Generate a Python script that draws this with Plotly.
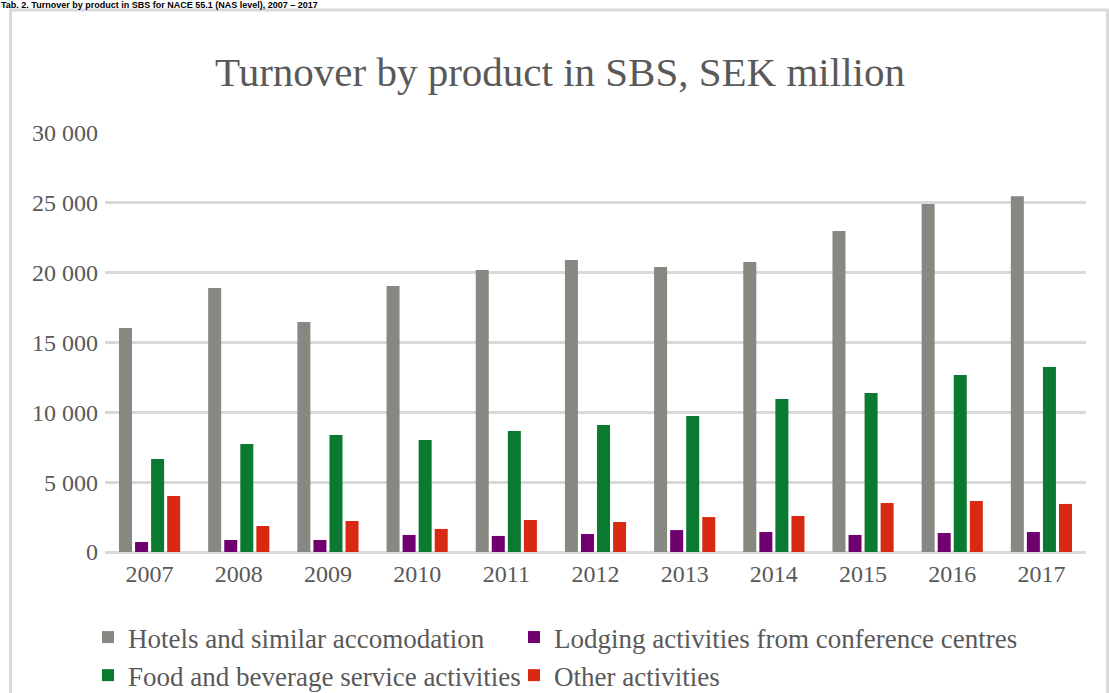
import plotly.graph_objects as go

years = ["2007", "2008", "2009", "2010", "2011", "2012", "2013", "2014", "2015", "2016", "2017"]
hotels = [16030, 18900, 16460, 19040, 20190, 20900, 20400, 20760, 22980, 24910, 25480]
lodging = [715, 860, 860, 1220, 1150, 1290, 1570, 1430, 1220, 1360, 1430]
food = [6660, 7730, 8375, 8020, 8660, 9090, 9740, 10950, 11380, 12670, 13240]
other = [4010, 1860, 2220, 1650, 2290, 2150, 2500, 2580, 3510, 3650, 3440]

series_names = ["Hotels and similar accomodation", "Lodging activities from conference centres",
                "Food and beverage service activities", "Other activities"]
series_colors = ["#888882", "#700070", "#0a7a30", "#d82a12"]
series_legend = ["legend", "legend2", "legend", "legend2"]
y_ticks = [0, 5000, 10000, 15000, 20000, 25000, 30000]

W, H = 1109, 693
L, R, T, B = 105, 23, 133, 141
PW, PH = W - L - R, H - T - B

def px(x):
    return (x - L) / PW

def py(y):
    return (H - B - y) / PH

fig = go.Figure()
for name, vals, col, lg in zip(series_names, [hotels, lodging, food, other], series_colors, series_legend):
    fig.add_trace(go.Bar(x=years, y=vals, name=name, marker_color=col, marker_line_width=0,
                         legend=lg))

font_family = "Liberation Serif, DejaVu Serif, serif"
legend_common = dict(orientation="v", xref="container", yref="container", y=1 - 613 / H,
                     yanchor="top", xanchor="left", traceorder="normal", tracegroupgap=0,
                     font=dict(size=27, color="#595959", family=font_family),
                     bgcolor="rgba(0,0,0,0)", itemclick=False, itemdoubleclick=False)
fig.update_layout(
    width=W, height=H,
    margin=dict(l=L, r=R, t=T, b=B, autoexpand=False),
    paper_bgcolor="white", plot_bgcolor="white",
    separators=". ",
    font=dict(family=font_family, color="#595959", size=24),
    title=dict(text="Turnover by product in SBS, SEK million", x=560 / W, xanchor="center",
               y=1 - 72 / H, yanchor="middle", font=dict(size=41, color="#595959", family=font_family)),
    barmode="group", bargap=0.28, bargroupgap=0.19,
    xaxis=dict(showgrid=False, showline=False, ticks="", ticklabelstandoff=5,
               tickfont=dict(size=24, color="#595959")),
    yaxis=dict(range=[0, 30000], tickvals=y_ticks, tickformat=",d", showgrid=True,
               gridcolor="#d9d9d9", gridwidth=3, zeroline=True, zerolinecolor="#d9d9d9",
               zerolinewidth=3, showline=False, ticks="", ticklabelstandoff=6,
               tickfont=dict(size=24, color="#595959")),
    legend=dict(x=88 / W, **legend_common),
    legend2=dict(x=514 / W, **legend_common),
    showlegend=True,
    shapes=[dict(type="rect", xref="paper", yref="paper",
                 x0=px(10.5), x1=px(1107.5), y0=py(720), y1=py(10),
                 line=dict(color="#d9d9d9", width=3), fillcolor="rgba(0,0,0,0)", layer="below")],
    annotations=[dict(text="<b>Tab. 2. Turnover by product in SBS for NACE 55.1 (NAS level), 2007 – 2017</b>",
                      xref="paper", yref="paper", x=px(0), y=py(-1), xanchor="left", yanchor="top",
                      showarrow=False, borderpad=0,
                      font=dict(size=9, color="black", family="Liberation Sans, Arial, sans-serif"))],
)

fig.write_html("out.html", config={"displayModeBar": False},
               post_script="document.body.style.margin='0';document.body.style.overflow='hidden';")
